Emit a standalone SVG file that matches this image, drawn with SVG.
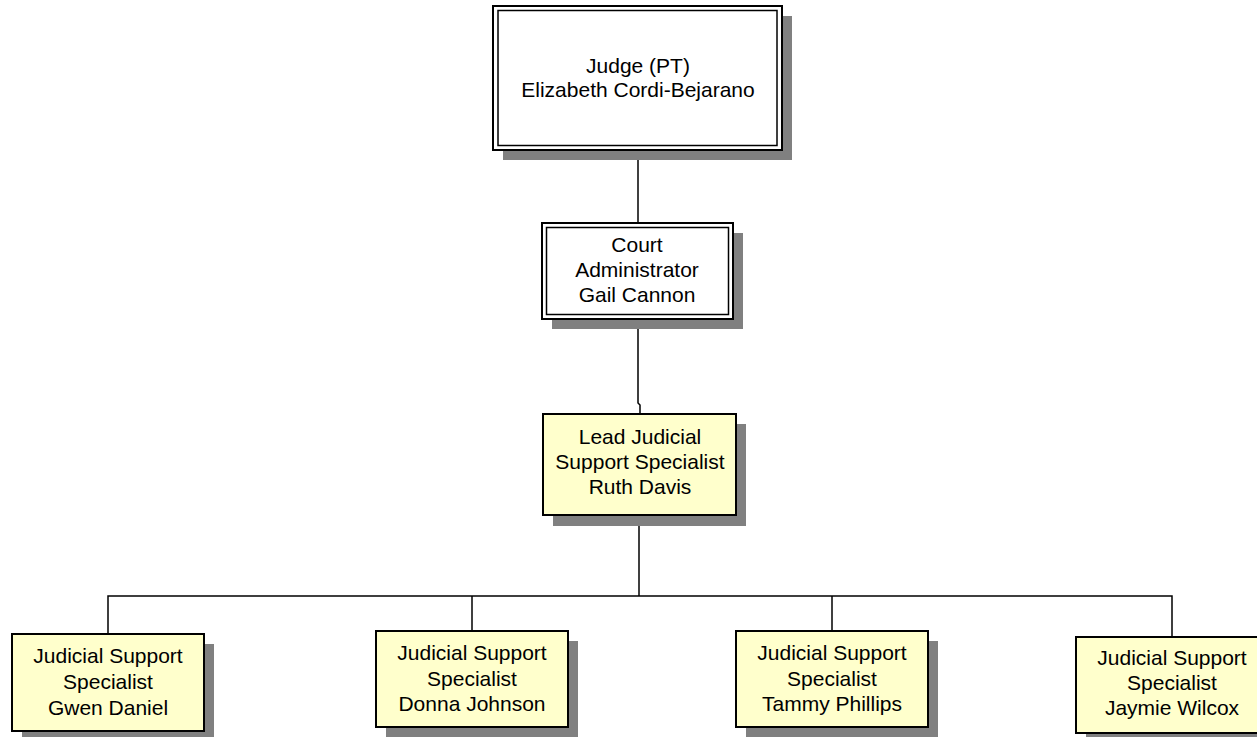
<svg xmlns="http://www.w3.org/2000/svg" width="1257" height="737" viewBox="0 0 1257 737">
<style>
.shadow{fill:#808080;}
.box{fill:#ffffff;stroke:#000;stroke-width:2;}
.inner{fill:none;stroke:#000;stroke-width:1.5;}
.ybox{fill:#ffffcc;stroke:#000;stroke-width:2;}
.conn{fill:none;stroke:#000;stroke-width:1.5;}
text{font-family:"Liberation Sans",Arial,sans-serif;font-size:21px;fill:#000;text-anchor:middle;}
</style>
<rect width="1257" height="737" fill="#fff"/>
<g id="connectors">
<path class="conn" d="M638 150 V223"/>
<path class="conn" d="M638 319 V403 L640 405 V414"/>
<path class="conn" d="M639 515 V596"/>
<path class="conn" d="M108 634 V596 H1172 V637"/>
<path class="conn" d="M472 596 V631"/>
<path class="conn" d="M832 596 V631"/>
</g>
<g id="judge">
<rect class="shadow" x="503" y="16" width="289" height="144"/>
<rect class="box" x="493" y="6" width="289" height="144"/>
<rect class="inner" x="498" y="10.5" width="279" height="135"/>
<text x="638" y="73">Judge (PT)</text>
<text x="638" y="97">Elizabeth Cordi-Bejarano</text>
</g>
<g id="court-admin">
<rect class="shadow" x="552" y="233" width="191" height="96"/>
<rect class="box" x="542" y="223" width="191" height="96"/>
<rect class="inner" x="546.5" y="227.5" width="182" height="87"/>
<text x="637" y="252">Court</text>
<text x="637" y="277">Administrator</text>
<text x="637" y="302">Gail Cannon</text>
</g>
<g id="lead">
<rect class="shadow" x="553" y="424" width="193" height="102"/>
<rect class="ybox" x="543" y="414" width="193" height="101"/>
<text x="640" y="444">Lead Judicial</text>
<text x="640" y="469">Support Specialist</text>
<text x="640" y="494">Ruth Davis</text>
</g>
<g id="gwen">
<rect class="shadow" x="22" y="644" width="192" height="97"/>
<rect class="ybox" x="12" y="634" width="192" height="97"/>
<text x="108" y="663">Judicial Support</text>
<text x="108" y="689">Specialist</text>
<text x="108" y="715">Gwen Daniel</text>
</g>
<g id="donna">
<rect class="shadow" x="386" y="641" width="192" height="96"/>
<rect class="ybox" x="376" y="631" width="192" height="96"/>
<text x="472" y="660">Judicial Support</text>
<text x="472" y="686">Specialist</text>
<text x="472" y="711">Donna Johnson</text>
</g>
<g id="tammy">
<rect class="shadow" x="746" y="641" width="192" height="96"/>
<rect class="ybox" x="736" y="631" width="192" height="96"/>
<text x="832" y="660">Judicial Support</text>
<text x="832" y="686">Specialist</text>
<text x="832" y="711">Tammy Phillips</text>
</g>
<g id="jaymie">
<rect class="shadow" x="1086" y="647" width="192" height="96"/>
<rect class="ybox" x="1076" y="637" width="192" height="96"/>
<text x="1172" y="665">Judicial Support</text>
<text x="1172" y="690">Specialist</text>
<text x="1172" y="715">Jaymie Wilcox</text>
</g>
</svg>
